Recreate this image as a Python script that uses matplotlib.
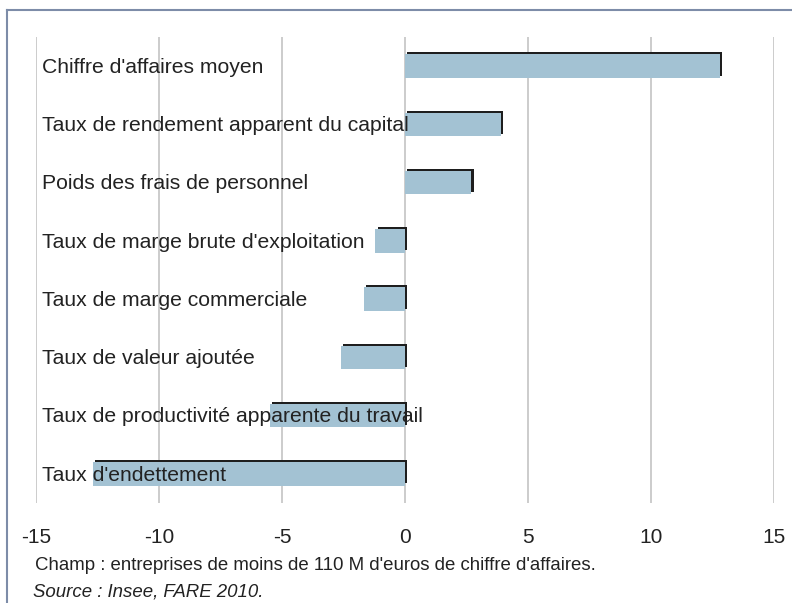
import numpy as np
import matplotlib
matplotlib.use('Agg')
import matplotlib.pyplot as plt
import matplotlib.patheffects as pe
from matplotlib.lines import Line2D

# données
libelles = ["Chiffre d'affaires moyen",
            "Taux de rendement apparent du capital",
            "Poids des frais de personnel",
            "Taux de marge brute d'exploitation",
            "Taux de marge commerciale",
            "Taux de valeur ajoutée",
            "Taux de productivité apparente du travail",
            "Taux d'endettement"]
valeurs = [12.8, 3.9, 2.7, -1.2, -1.65, -2.6, -5.5, -12.7]
graduations = [-15, -10, -5, 0, 5, 10, 15]

plt.rcParams['font.family'] = ['Liberation Sans', 'DejaVu Sans']

fig = plt.figure(figsize=(7.92, 6.03), dpi=100)
ax = fig.add_axes([36/792, 100/603, 738/792, 466/603])

y = np.arange(len(libelles))
ombre = [pe.SimplePatchShadow(offset=(1.5, 1.5), shadow_rgbFace='#1e1e1e', alpha=1), pe.Normal()]
ax.barh(y, valeurs, height=0.4, color='#a3c2d3', zorder=2, path_effects=ombre)

for i, lib in enumerate(libelles):
    ax.text(-14.75, i + 0.02, lib, fontsize=15.2, color='#222222', va='center', ha='left', zorder=3)

ax.set_xlim(-15, 15)
ax.set_ylim(7.5, -0.5)
ax.set_xticks(graduations)
ax.set_xticklabels([str(g) for g in graduations], fontsize=15, color='#222222')
ax.set_yticks([])
ax.grid(axis='x', color='#c8c8c8', linewidth=1.3, zorder=0)
ax.tick_params(axis='x', length=0, pad=18)
for s in ax.spines.values():
    s.set_visible(False)

# cadre
fig.add_artist(Line2D([7/792, 1], [1 - 10/603, 1 - 10/603], color='#7d8ca8', linewidth=1.5))
fig.add_artist(Line2D([7/792, 7/792], [0, 1 - 10/603], color='#7d8ca8', linewidth=1.5))

fig.text(35/792, 1 - 566/603, "Champ : entreprises de moins de 110 M d'euros de chiffre d'affaires.",
         fontsize=13.4, color='#222222', va='center')
fig.text(33/792, 1 - 592/603, "Source : Insee, FARE 2010.", fontsize=13.4, color='#222222',
         va='center', style='italic')

fig.savefig('out.png', dpi=100)
